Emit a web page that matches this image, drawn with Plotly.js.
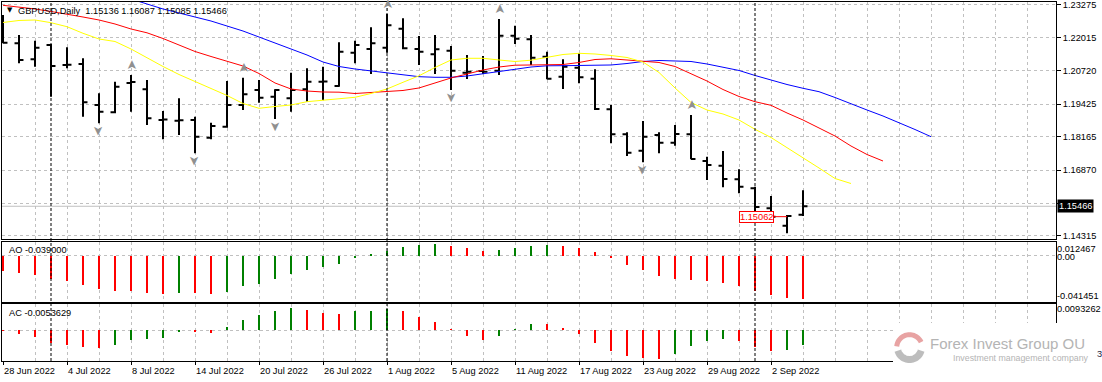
<!DOCTYPE html>
<html><head><meta charset="utf-8">
<script src="https://cdn.plot.ly/plotly-3.0.1.min.js"></script>
<style>html,body{margin:0;padding:0;background:#fff;overflow:hidden}#chart{width:1102px;height:382px}</style>
</head><body><div id="chart"></div>
<script>
// ---------------- data ----------------
const symbolName = 'GBPUSD,Daily';
const dates = ['28 Jun 2022','29 Jun 2022','30 Jun 2022','1 Jul 2022','4 Jul 2022','5 Jul 2022','6 Jul 2022','7 Jul 2022','8 Jul 2022','11 Jul 2022','12 Jul 2022','13 Jul 2022','14 Jul 2022','15 Jul 2022','18 Jul 2022','19 Jul 2022','20 Jul 2022','21 Jul 2022','22 Jul 2022','25 Jul 2022','26 Jul 2022','27 Jul 2022','28 Jul 2022','29 Jul 2022','1 Aug 2022','2 Aug 2022','3 Aug 2022','4 Aug 2022','5 Aug 2022','8 Aug 2022','9 Aug 2022','10 Aug 2022','11 Aug 2022','12 Aug 2022','15 Aug 2022','16 Aug 2022','17 Aug 2022','18 Aug 2022','19 Aug 2022','22 Aug 2022','23 Aug 2022','24 Aug 2022','25 Aug 2022','26 Aug 2022','29 Aug 2022','30 Aug 2022','31 Aug 2022','1 Sep 2022','2 Sep 2022','5 Sep 2022','6 Sep 2022'];
const openP  = [1.22620,1.21789,1.21168,1.21723,1.20947,1.20986,1.19395,1.19112,1.20249,1.20004,1.18813,1.18786,1.18813,1.18126,1.18553,1.19395,1.19977,1.19717,1.19655,1.20004,1.20299,1.20132,1.21424,1.21568,1.21618,1.22355,1.21568,1.21362,1.21502,1.20648,1.20714,1.20726,1.22084,1.21944,1.21269,1.20493,1.20842,1.20415,1.19228,1.18258,1.17622,1.18231,1.17932,1.18258,1.17222,1.17040,1.16512,1.16163,1.15387,1.14712,1.15136];
const highP  = [1.22887,1.22111,1.21890,1.21762,1.21634,1.21207,1.19849,1.20299,1.20559,1.20365,1.19162,1.19655,1.18941,1.18708,1.20326,1.20454,1.20365,1.20004,1.20648,1.20819,1.20881,1.21828,1.21890,1.22410,1.22926,1.22759,1.22072,1.22111,1.21684,1.21335,1.21296,1.22732,1.22472,1.22111,1.21463,1.21168,1.21401,1.20780,1.19395,1.18336,1.18774,1.18336,1.18619,1.19007,1.17389,1.17610,1.16900,1.16225,1.15864,1.15127,1.16087];
const lowP   = [1.21789,1.21013,1.20881,1.19717,1.20819,1.18941,1.18685,1.19073,1.19135,1.18619,1.18064,1.18231,1.17521,1.18064,1.18514,1.19201,1.19484,1.18852,1.19135,1.19523,1.19589,1.20105,1.21013,1.20598,1.21424,1.21556,1.20947,1.20598,1.19977,1.20404,1.20598,1.20559,1.21762,1.20947,1.20392,1.20016,1.20237,1.19201,1.17909,1.17416,1.17172,1.17521,1.17816,1.17288,1.16485,1.16202,1.15969,1.15038,1.14960,1.14417,1.15085];
const closeP = [1.21812,1.21141,1.21618,1.20908,1.20960,1.19500,1.19135,1.20105,1.20287,1.18879,1.18830,1.18800,1.18165,1.18580,1.19395,1.19810,1.19678,1.19977,1.19977,1.20299,1.20310,1.21463,1.21723,1.21789,1.22487,1.21595,1.21463,1.21556,1.20726,1.20687,1.20687,1.22084,1.21967,1.21230,1.20415,1.20881,1.20470,1.19240,1.18258,1.17544,1.18165,1.17932,1.18270,1.17300,1.17067,1.16524,1.16225,1.15437,1.15062,1.15088,1.15466];

// Alligator (values per bar, lines extend past the last bar by their shift)
const jawFirstBar = 8;
const jaw = [1.23508,1.23314,1.23120,1.22965,1.22809,1.22654,1.22460,1.22266,1.22033,1.21801,1.21568,1.21335,1.21063,1.20889,1.20792,1.20714,1.20637,1.20547,1.20493,1.20470,1.20470,1.20520,1.20598,1.20683,1.20780,1.20869,1.20916,1.20920,1.20920,1.20928,1.20947,1.21005,1.21083,1.21122,1.21102,1.21083,1.20986,1.20869,1.20734,1.20540,1.20353,1.20190,1.20043,1.19911,1.19686,1.19434,1.19201,1.18968,1.18716,1.18444,1.18165];
const teethFirstBar = 0;
const teeth = [1.23263,1.23197,1.23120,1.23023,1.22926,1.22809,1.22693,1.22538,1.22344,1.22196,1.21975,1.21723,1.21471,1.21277,1.21083,1.20908,1.20617,1.20249,1.20016,1.19938,1.19899,1.19892,1.19841,1.19880,1.19919,1.19958,1.20055,1.20249,1.20443,1.20598,1.20753,1.20869,1.20939,1.20947,1.20947,1.20966,1.21044,1.21160,1.21188,1.21133,1.21091,1.21044,1.20889,1.20617,1.20326,1.19996,1.19725,1.19523,1.19383,1.19085,1.18813,1.18503,1.18192,1.17804,1.17474,1.17222];
const lipsFirstBar = 0;
const lips = [1.22596,1.22674,1.22693,1.22588,1.22433,1.22177,1.21956,1.21859,1.21568,1.21219,1.20889,1.20578,1.20307,1.20066,1.19764,1.19453,1.19267,1.19337,1.19395,1.19523,1.19589,1.19647,1.19694,1.19841,1.20016,1.20276,1.20528,1.20850,1.21141,1.21207,1.21207,1.21141,1.21083,1.21133,1.21257,1.21354,1.21401,1.21374,1.21316,1.21238,1.21063,1.20656,1.20055,1.19492,1.19201,1.19046,1.18813,1.18452,1.18134,1.17746,1.17327,1.16951,1.16543,1.16349];

const fractalUp   = ['8 Jul 2022','19 Jul 2022','1 Aug 2022','10 Aug 2022','26 Aug 2022'];
const fractalDown = ['6 Jul 2022','14 Jul 2022','21 Jul 2022','5 Aug 2022','23 Aug 2022'];

const ao = [-0.01411,-0.01555,-0.01707,-0.02067,-0.02309,-0.02606,-0.02965,-0.03145,-0.03160,-0.03298,-0.03415,-0.03298,-0.03316,-0.03415,-0.03208,-0.02759,-0.02516,-0.02067,-0.01618,-0.01321,-0.01051,-0.00719,-0.00243,0.00180,0.00449,0.00782,0.00985,0.01000,0.00899,0.00719,0.00449,0.00539,0.00719,0.00899,0.00926,0.00899,0.00719,0.00359,-0.00243,-0.00809,-0.01258,-0.01797,-0.02067,-0.02157,-0.02247,-0.02426,-0.02696,-0.03145,-0.03505,-0.03774,-0.03900];
const ac = [-0.00010,-0.00133,-0.00240,-0.00445,-0.00527,-0.00599,-0.00635,-0.00527,-0.00348,-0.00312,-0.00276,-0.00061,-0.00079,-0.00097,0.00118,0.00369,0.00549,0.00692,0.00789,0.00728,0.00621,0.00585,0.00692,0.00700,0.00753,0.00692,0.00477,0.00298,0.00047,-0.00204,-0.00348,-0.00204,0.00057,0.00226,0.00215,0.00083,-0.00133,-0.00456,-0.00743,-0.00922,-0.00994,-0.01029,-0.00850,-0.00563,-0.00384,-0.00301,-0.00384,-0.00599,-0.00743,-0.00707,-0.0053629];

const priceTicks      = [1.23275,1.22015,1.20720,1.19425,1.18165,1.16870,1.15580,1.14315];
const priceTickLabels = ['1.23275','1.22015','1.20720','1.19425','1.18165','1.16870','','1.14315'];
const priceRange = [1.14184, 1.23391];
const aoRange = [-0.041451, 0.012467];
const acRange = [-0.011012, 0.0093262];
const acBottomLabelTail = '3';
const dateLabels = ['28 Jun 2022','4 Jul 2022','8 Jul 2022','14 Jul 2022','20 Jul 2022','26 Jul 2022','1 Aug 2022','5 Aug 2022','11 Aug 2022','17 Aug 2022','23 Aug 2022','29 Aug 2022','2 Sep 2022'];
const periodSeparators = ['1 Jul 2022','1 Aug 2022','1 Sep 2022'];
const markedPrice = 1.15062, markedBar = '5 Sep 2022';
const brand = 'Forex Invest Group OU', brandSub = 'Investment management company';

// ---------------- layout helpers ----------------
const PL = 2, PT = 2, PW = 1054, PH = 359;
const px = x => (x - PL) / PW;
const py = y => (PT + PH - y) / PH;
const idx = d => dates.indexOf(d);
const FONT = 'Liberation Sans, Arial, sans-serif';
const FS = 9.25;
const GRID = '#c0c0c0', GDASH = '3px,3px';
const UP = '#008000', DOWN = '#ff0000';
const xRange = [(PL - 3) / 16, (PL + PW - 3) / 16];
const evenBars = []; for (let i = 0; i <= 66; i += 2) evenBars.push(i);
const barIdx = dates.map((_, i) => i);
const seq = (first, arr) => arr.map((_, k) => first + k);
const colorsOf = arr => arr.map((v, i) => (i > 0 && v > arr[i - 1]) ? UP : DOWN);

const traces = [
  {type:'scatter', mode:'lines', x:seq(jawFirstBar, jaw), y:jaw, line:{color:'#0000ff', width:1}, xaxis:'x', yaxis:'y', hoverinfo:'skip'},
  {type:'scatter', mode:'lines', x:seq(teethFirstBar, teeth), y:teeth, line:{color:'#ff0000', width:1}, xaxis:'x', yaxis:'y', hoverinfo:'skip'},
  {type:'scatter', mode:'lines', x:seq(lipsFirstBar, lips), y:lips, line:{color:'#ffff00', width:1}, xaxis:'x', yaxis:'y', hoverinfo:'skip'},
  {type:'ohlc', x:barIdx, open:openP, high:highP, low:lowP, close:closeP, xaxis:'x', yaxis:'y',
   tickwidth:0.28, increasing:{line:{color:'#000', width:2}}, decreasing:{line:{color:'#000', width:2}}, hoverinfo:'none'},
  {type:'bar', x:barIdx, y:ao, width:0.125, marker:{color:colorsOf(ao), line:{width:0}}, xaxis:'x2', yaxis:'y2', hoverinfo:'skip'},
  {type:'bar', x:barIdx, y:ac, width:0.125, marker:{color:colorsOf(ac), line:{width:0}}, xaxis:'x3', yaxis:'y3', hoverinfo:'skip'}
];

const xBase = {range:xRange, showgrid:true, gridcolor:GRID, griddash:GDASH, gridwidth:1, tickmode:'array', tickvals:evenBars,
  showticklabels:false, ticks:'', zeroline:false, showline:true, mirror:true, linecolor:'#000', linewidth:1, fixedrange:true};
const yBox = {showline:true, mirror:true, linecolor:'#000', linewidth:1, zeroline:false, fixedrange:true};

const last = dates.length - 1;
const annotations = [];
// title
annotations.push({xref:'paper', yref:'paper', x:px(9.5), y:py(10.5), text:'\u25BC', showarrow:false, xanchor:'center', yanchor:'middle', font:{family:'DejaVu Sans', size:7, color:'#000'}});
annotations.push({xref:'paper', yref:'paper', x:px(16), y:py(10.7), xanchor:'left', yanchor:'middle', showarrow:false,
  text: symbolName + '\u00a0\u00a0' + [openP[last], highP[last], lowP[last], closeP[last]].map(v => v.toFixed(5)).join(' '),
  font:{family:FONT, size:FS, color:'#000'}});
annotations.push({xref:'paper', yref:'paper', x:px(6.5), y:py(250.3), xanchor:'left', yanchor:'middle', showarrow:false,
  text:'AO ' + ao[last].toFixed(6), font:{family:FONT, size:FS, color:'#000'}});
annotations.push({xref:'paper', yref:'paper', x:px(6.5), y:py(312.7), xanchor:'left', yanchor:'middle', showarrow:false,
  text:'AC ' + ac[last].toFixed(7), font:{family:FONT, size:FS, color:'#000'}});
// right-side labels for AO / AC windows
const rlab = (t, yy) => ({xref:'paper', yref:'paper', x:px(1056), y:py(yy), xanchor:'left', yanchor:'middle', showarrow:false, borderpad:0,
  text:t, font:{family:FONT, size:FS, color:'#000'}});
annotations.push(rlab(aoRange[1].toFixed(6), 249));
annotations.push(rlab('0.00', 256.6));
annotations.push(rlab(aoRange[0].toFixed(6), 296));
annotations.push(rlab(acRange[1].toFixed(7), 308.7));
annotations.push({xref:'paper', yref:'paper', x:px(1096), y:py(353.5), xanchor:'left', yanchor:'middle', showarrow:false, borderpad:0,
  text:acBottomLabelTail, font:{family:FONT, size:FS, color:'#1a1a40'}});
// current price label
annotations.push({xref:'paper', yref:'y', x:px(1057), y:closeP[last], xanchor:'left', yanchor:'middle', showarrow:false,
  text:closeP[last].toFixed(5), bgcolor:'#000', borderpad:1, font:{family:FONT, size:FS, color:'#fff'}});
// marked price
annotations.push({xref:'x', yref:'y', x:idx(markedBar), y:markedPrice, ax:-31, ay:0, showarrow:true, arrowhead:0, arrowwidth:1, arrowcolor:'#ff0000',
  text:markedPrice.toFixed(5), bgcolor:'#fff', bordercolor:'#ff0000', borderwidth:1, borderpad:0, font:{family:FONT, size:FS, color:'#ff0000'}});
// fractals
fractalUp.forEach(d => annotations.push({xref:'x', yref:'y', x:idx(d), y:highP[idx(d)], yshift:9.5, text:'\u27A4', textangle:-90, showarrow:false,
  borderpad:0, font:{family:'DejaVu Sans', size:13, color:'#909090'}}));
fractalDown.forEach(d => annotations.push({xref:'x', yref:'y', x:idx(d), y:lowP[idx(d)], yshift:-7, text:'\u27A4', textangle:90, showarrow:false,
  borderpad:0, font:{family:'DejaVu Sans', size:13, color:'#909090'}}));
// date labels
dateLabels.forEach(d => annotations.push({xref:'x3', yref:'paper', x:idx(d), y:0, yshift:-3, xshift:-1.5, xanchor:'left', yanchor:'top', showarrow:false,
  text:d, font:{family:FONT, size:FS, color:'#000'}}));
// watermark text
annotations.push({xref:'paper', yref:'paper', x:px(1007.5), y:py(343), xanchor:'center', yanchor:'middle', showarrow:false, text:brand, borderpad:0,
  font:{family:FONT, size:15, color:'#b4b4b4'}});
annotations.push({xref:'paper', yref:'paper', x:px(1021), y:py(357.8), xanchor:'center', yanchor:'middle', showarrow:false, text:brandSub, borderpad:0,
  font:{family:FONT, size:8.8, color:'#b4b4b4'}});

// shapes
const shapes = [];
periodSeparators.forEach(d => shapes.push({type:'line', xref:'x', yref:'paper', x0:idx(d), x1:idx(d), y0:0, y1:1, layer:'above',
  line:{color:'#000', width:1, dash:'3px,2px'}}));
shapes.push({type:'line', xref:'paper', yref:'y', x0:0, x1:1, y0:closeP[last], y1:closeP[last], layer:'below', line:{color:'#c0c0c0', width:1}});
// watermark box + logo
shapes.push({type:'rect', xref:'paper', yref:'paper', x0:px(893), x1:px(1094), y0:py(382), y1:py(323), layer:'above', fillcolor:'#fff', line:{width:0}});
function arc(cx, cy, r, a0, a1) {
  let s = '';
  for (let k = 0; k <= 30; k++) {
    const a = (a0 + (a1 - a0) * k / 30) * Math.PI / 180;
    s += (k ? 'L' : 'M') + px(cx + r * Math.cos(a)).toFixed(5) + ',' + py(cy - r * Math.sin(a)).toFixed(5);
  }
  return s;
}
shapes.push({type:'path', xref:'paper', yref:'paper', layer:'above', path:arc(909.5, 347.5, 12, 195, 345), line:{color:'#bdbdbd', width:7}});
shapes.push({type:'path', xref:'paper', yref:'paper', layer:'above', path:arc(909.5, 347.5, 12.8, 25, 175), line:{color:'#e8a3a3', width:5}});

const layout = {
  width:1102, height:382, margin:{l:PL, r:1102 - PL - PW, t:PT, b:382 - PT - PH, pad:0},
  paper_bgcolor:'#fff', plot_bgcolor:'#fff', showlegend:false, dragmode:false,
  font:{family:FONT, size:FS, color:'#000'},
  xaxis: Object.assign({}, xBase, {anchor:'y', rangeslider:{visible:false}}),
  xaxis2: Object.assign({}, xBase, {anchor:'y2', matches:'x'}),
  xaxis3: Object.assign({}, xBase, {anchor:'y3', matches:'x', tickvals:dateLabels.map(idx), ticks:'outside', ticklen:3, tickcolor:'#000', tickwidth:1,
    minor:{tickmode:'array', tickvals:evenBars, showgrid:true, gridcolor:GRID, griddash:GDASH, gridwidth:1, ticks:''}}),
  yaxis: Object.assign({}, yBox, {domain:[py(239.3), 1], range:priceRange, side:'right', tickmode:'array', tickvals:priceTicks, ticktext:priceTickLabels,
    ticks:'outside', ticklen:4, tickcolor:'#000', tickwidth:1, showgrid:true, gridcolor:GRID, griddash:GDASH, gridwidth:1,
    tickfont:{family:FONT, size:FS, color:'#000'}}),
  yaxis2: Object.assign({}, yBox, {domain:[py(302), py(241.7)], range:aoRange, tickmode:'array', tickvals:[0], showticklabels:false, ticks:'',
    showgrid:true, gridcolor:GRID, griddash:GDASH, gridwidth:1}),
  yaxis3: Object.assign({}, yBox, {domain:[0, py(304.3)], range:acRange, tickmode:'array', tickvals:[0], showticklabels:false, ticks:'',
    showgrid:true, gridcolor:GRID, griddash:GDASH, gridwidth:1}),
  annotations, shapes, bargap:0
};
Plotly.newPlot('chart', traces, layout, {displayModeBar:false, staticPlot:true});
</script>
</body></html>
